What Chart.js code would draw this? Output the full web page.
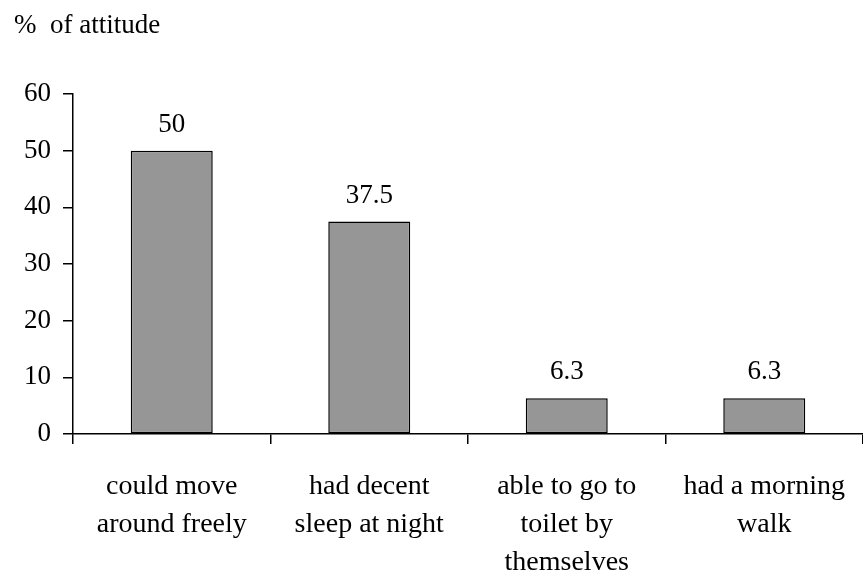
<!DOCTYPE html>
<html>
<head>
<meta charset="utf-8">
<script src="https://cdn.jsdelivr.net/npm/chart.js@4.4.1/dist/chart.umd.min.js"></script>
<style>
  body { margin: 0; background: #fff; }
  canvas { display: block; }
</style>
</head>
<body>
<canvas id="myChart" width="863" height="575"></canvas>
<script>
// donnees du graphique
const categories = [
    ["could move", "around freely"],
    ["had decent", "sleep at night"],
    ["able to go to", "toilet by", "themselves"],
    ["had a morning", "walk"]
];
const valeurs = [50, 37.5, 6.3, 6.3];
const yTicks = [0, 10, 20, 30, 40, 50, 60];
const titreAxe = "%  of attitude";

const police = "'Liberation Serif', 'Times New Roman', serif";

// titre en haut a gauche + valeurs au dessus des barres
const pluginTextes = {
    id: 'textes',
    afterDraw(chart) {
        const ctx = chart.ctx;
        ctx.save();
        ctx.fillStyle = '#000';
        ctx.font = "27px " + police;
        ctx.textAlign = 'left';
        ctx.textBaseline = 'alphabetic';
        ctx.fillText(titreAxe, 14, 33);

        ctx.font = "27px " + police;
        ctx.textAlign = 'center';
        const meta = chart.getDatasetMeta(0);
        meta.data.forEach((bar, i) => {
            ctx.fillText(String(valeurs[i]), bar.x, bar.y - 19);
        });
        ctx.restore();
    }
};

const data = {
    labels: categories,
    datasets: [{
        data: valeurs,
        backgroundColor: '#969696',
        borderColor: '#000',
        borderWidth: 1.5,
        borderSkipped: false,
        categoryPercentage: 1,
        barPercentage: 0.415
    }]
};

const config = {
    type: 'bar',
    data: data,
    options: {
        responsive: false,
        animation: false,
        layout: { padding: { top: 94, right: 0, left: 0, bottom: 0 } },
        plugins: {
            legend: { display: false },
            tooltip: { enabled: false }
        },
        scales: {
            x: {
                offset: true,
                grid: {
                    offset: true,
                    drawOnChartArea: false,
                    tickLength: 10,
                    color: '#000',
                    lineWidth: 1.5
                },
                border: { color: '#000', width: 1.5 },
                ticks: {
                    color: '#000',
                    font: { family: police, size: 28, lineHeight: 1.357 },
                    padding: 24,
                    maxRotation: 0,
                    autoSkip: false
                },
                afterFit(scale) {
                    scale.height = 141;
                    // pas de marge a droite, l'axe va jusqu'au bord
                    scale.paddingRight = 0;
                    scale.paddingLeft = 0;
                }
            },
            y: {
                min: 0,
                max: 60,
                afterBuildTicks(scale) { scale.ticks = yTicks.map(v => ({ value: v })); },
                grid: {
                    drawOnChartArea: false,
                    tickLength: 10,
                    color: '#000',
                    lineWidth: 1.5
                },
                border: { color: '#000', width: 1.5 },
                ticks: {
                    color: '#000',
                    font: { family: police, size: 27 },
                    padding: 12
                },
                afterFit(scale) { scale.width = 73; }
            }
        }
    },
    plugins: [pluginTextes]
};

const myChart = new Chart(document.getElementById('myChart'), config);
</script>
</body>
</html>
